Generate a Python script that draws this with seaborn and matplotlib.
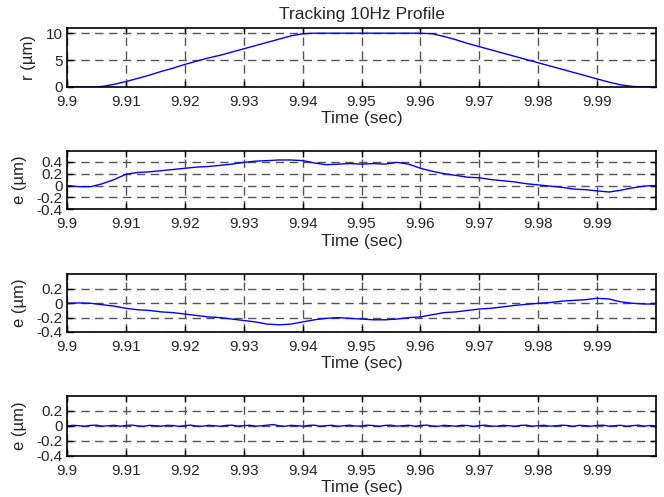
import matplotlib
matplotlib.use("Agg")
import matplotlib.pyplot as plt
import seaborn as sns

# time base, 2 ms steps (reference, e from two controllers)
t = [9.900, 9.902, 9.904, 9.906, 9.908, 9.910, 9.912, 9.914, 9.916, 9.918,
     9.920, 9.922, 9.924, 9.926, 9.928, 9.930, 9.932, 9.934, 9.936, 9.938,
     9.940, 9.942, 9.944, 9.946, 9.948, 9.950, 9.952, 9.954, 9.956, 9.958,
     9.960, 9.962, 9.964, 9.966, 9.968, 9.970, 9.972, 9.974, 9.976, 9.978,
     9.980, 9.982, 9.984, 9.986, 9.988, 9.990, 9.992, 9.994, 9.996, 9.998,
     10.000]

r_ref = [0.0, 0.0, 0.0, 0.1, 0.5, 1.0, 1.6, 2.2, 2.9, 3.5,
         4.2, 4.8, 5.4, 5.9, 6.5, 7.1, 7.7, 8.3, 8.9, 9.5,
         9.9, 10.0, 10.0, 10.0, 10.0, 10.0, 10.0, 10.0, 10.0, 10.0,
         10.0, 9.9, 9.4, 8.8, 8.1, 7.5, 6.9, 6.3, 5.7, 5.1,
         4.5, 3.9, 3.3, 2.7, 2.1, 1.5, 0.9, 0.4, 0.1, 0.0,
         0.0]

e_a = [0.00, -0.02, -0.02, 0.03, 0.10, 0.19, 0.22, 0.23, 0.25, 0.27,
       0.29, 0.31, 0.32, 0.34, 0.36, 0.39, 0.41, 0.42, 0.43, 0.43,
       0.42, 0.38, 0.35, 0.36, 0.37, 0.36, 0.37, 0.36, 0.39, 0.36,
       0.29, 0.24, 0.20, 0.17, 0.14, 0.13, 0.10, 0.08, 0.06, 0.03,
       0.01, -0.01, -0.03, -0.06, -0.07, -0.09, -0.11, -0.08, -0.04, -0.01,
       0.00]

e_b = [0.00, 0.005, 0.00, -0.02, -0.04, -0.07, -0.09, -0.10, -0.12, -0.13,
       -0.15, -0.17, -0.19, -0.20, -0.22, -0.24, -0.26, -0.29, -0.30, -0.29,
       -0.26, -0.23, -0.21, -0.20, -0.21, -0.22, -0.23, -0.23, -0.22, -0.20,
       -0.19, -0.16, -0.13, -0.12, -0.10, -0.08, -0.07, -0.05, -0.03, -0.015,
       0.00, 0.01, 0.03, 0.04, 0.05, 0.07, 0.06, 0.02, 0.00, -0.01,
       -0.01]

# 1 ms steps for the last (well tuned) tracking error
t_fine = [9.900, 9.901, 9.902, 9.903, 9.904, 9.905, 9.906, 9.907, 9.908, 9.909,
          9.910, 9.911, 9.912, 9.913, 9.914, 9.915, 9.916, 9.917, 9.918, 9.919,
          9.920, 9.921, 9.922, 9.923, 9.924, 9.925, 9.926, 9.927, 9.928, 9.929,
          9.930, 9.931, 9.932, 9.933, 9.934, 9.935, 9.936, 9.937, 9.938, 9.939,
          9.940, 9.941, 9.942, 9.943, 9.944, 9.945, 9.946, 9.947, 9.948, 9.949,
          9.950, 9.951, 9.952, 9.953, 9.954, 9.955, 9.956, 9.957, 9.958, 9.959,
          9.960, 9.961, 9.962, 9.963, 9.964, 9.965, 9.966, 9.967, 9.968, 9.969,
          9.970, 9.971, 9.972, 9.973, 9.974, 9.975, 9.976, 9.977, 9.978, 9.979,
          9.980, 9.981, 9.982, 9.983, 9.984, 9.985, 9.986, 9.987, 9.988, 9.989,
          9.990, 9.991, 9.992, 9.993, 9.994, 9.995, 9.996, 9.997, 9.998, 9.999,
          10.000]

e_c = [0.000, 0.008, 0.003, -0.005, 0.007, 0.010, -0.003, 0.002, 0.009, -0.004,
       0.005, 0.011, 0.000, -0.005, 0.008, 0.003, -0.004, 0.008, 0.005, -0.006,
       0.004, 0.010, -0.002, -0.004, 0.008, 0.003, -0.005, 0.007, 0.010, -0.003,
       0.003, 0.009, -0.003, 0.002, 0.010, 0.018, 0.002, -0.005, 0.008, 0.003,
       -0.004, 0.007, 0.010, -0.003, 0.003, 0.009, -0.005, 0.003, 0.010, -0.002,
       0.000, 0.010, 0.005, -0.005, 0.007, 0.010, -0.003, 0.003, 0.009, -0.004,
       0.005, 0.011, 0.000, -0.005, 0.008, 0.003, -0.004, 0.008, 0.005, -0.006,
       0.004, 0.010, -0.002, -0.004, 0.008, 0.003, -0.005, 0.007, 0.010, -0.003,
       0.003, 0.009, -0.003, 0.002, 0.010, 0.005, -0.005, 0.008, 0.003, -0.004,
       0.007, 0.010, -0.003, 0.003, 0.009, -0.005, 0.003, 0.010, -0.002, 0.005,
       0.003]

x_ticks = [9.90, 9.91, 9.92, 9.93, 9.94, 9.95, 9.96, 9.97, 9.98, 9.99]
x_ticklabels = ["9.9", "9.91", "9.92", "9.93", "9.94", "9.95", "9.96", "9.97", "9.98", "9.99"]

sns.set_style("ticks")
plt.rcParams["font.family"] = ["Liberation Sans", "DejaVu Sans"]
plt.rcParams["font.size"] = 11

fig = plt.figure(figsize=(6.64, 4.97), dpi=100)

panels = [
    # (x, y, ylim, yticks, yticklabels, ylabel, bottom, height)
    (t, r_ref, (0, 11), [0, 5, 10], ["0", "5", "10"], "r (\u00b5m)", 0.825, 0.119),
    (t, e_a, (-0.4, 0.58), [-0.4, -0.2, 0, 0.2, 0.4], ["-0.4", "-0.2", "0", "0.2", "0.4"], "e (\u00b5m)", 0.579, 0.117),
    (t, e_b, (-0.4, 0.41), [-0.4, -0.2, 0, 0.2], ["-0.4", "-0.2", "0", "0.2"], "e (\u00b5m)", 0.332, 0.117),
    (t_fine, e_c, (-0.4, 0.4), [-0.4, -0.2, 0, 0.2], ["-0.4", "-0.2", "0", "0.2"], "e (\u00b5m)", 0.0825, 0.121),
]

for i, (x, y, ylim, yt, ytl, ylab, bot, h) in enumerate(panels):
    ax = fig.add_axes([0.101, bot, 0.887, h])
    sns.lineplot(x=x, y=y, ax=ax, color="#0000ff", linewidth=1.0)
    ax.set_xlim(9.9, 10.0)
    ax.set_ylim(*ylim)
    ax.set_xticks(x_ticks)
    ax.set_xticklabels(x_ticklabels)
    ax.set_yticks(yt)
    ax.set_yticklabels(ytl)
    ax.grid(True, color="#555555", linestyle=(0, (6, 4)), linewidth=1.0)
    ax.tick_params(direction="in", top=True, right=True, length=4.5, width=1,
                   labelsize=11, color="black")
    ax.tick_params(axis="x", pad=5.5)
    ax.tick_params(axis="y", pad=3)
    for s in ax.spines.values():
        s.set_linewidth(1.2)
        s.set_color("black")
    ax.set_xlabel("Time (sec)", fontsize=12.5, labelpad=2)
    ax.set_ylabel(ylab, fontsize=12, labelpad=7)
    if i == 0:
        ax.set_title("Tracking 10Hz Profile", fontsize=12.5, pad=6)

fig.savefig("out.png", dpi=100)
